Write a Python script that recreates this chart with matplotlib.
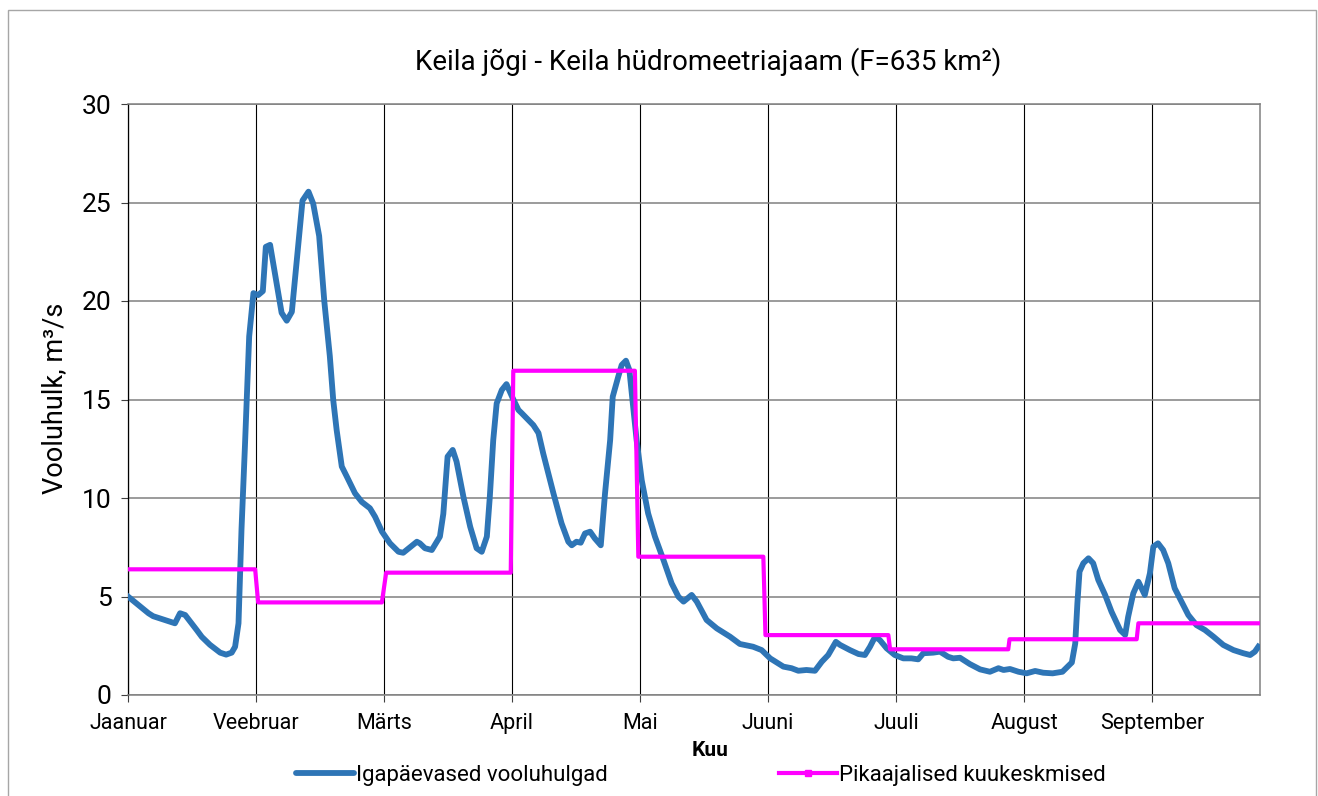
import matplotlib
matplotlib.use("Agg")
import matplotlib.pyplot as plt
from matplotlib.lines import Line2D
from matplotlib.patches import Rectangle
import numpy as np

plt.rcParams['font.family'] = ['Roboto', 'DejaVu Sans']

# paevad (0 = 1. jaanuar), kuu kohta 30 kategooriat
day_x = [0, 4.8, 5.9, 11, 12.2, 13.4, 16.1, 17.3, 19.2, 21.6, 23, 24.3, 25.1, 25.9,
         26.6, 27.4, 28.4, 29.4, 30.5, 31.6, 32.3, 33.3, 36, 37.2, 38.4, 40.9, 42.3,
         43.4, 44.8, 46, 47.3, 48.1, 48.9, 50.1, 51.3, 53.2, 54.8, 56.7, 57.9, 59.5,
         61.4, 63.4, 64.5, 66.1, 67.7, 68.4, 69.6, 71.2, 73.1, 73.9, 74.9, 76.1, 77,
         78.6, 80.2, 81.7, 82.9, 84.1, 84.8, 85.6, 86.4, 87.6, 88.7, 90.1, 91.5, 92.3,
         95, 96.2, 97.3, 99.7, 101.6, 103.2, 104, 105.1, 106.1, 107.1, 108.3, 109.4,
         110.8, 111.8, 113, 113.6, 114.9, 115.7, 116.7, 117.5, 118.4, 119.2, 120.4,
         121.9, 123.5, 125.5, 127.4, 129, 130.2, 132.1, 133.3, 135.6, 138, 141.1,
         143.4, 146.5, 148.5, 150.5, 153.6, 155.5, 157.1, 159, 161, 162.6, 164.1,
         165.9, 166.9, 169.2, 171.2, 172.7, 173.9, 175.1, 176.2, 177.8, 179.7, 181.7,
         183.6, 185.2, 186.4, 188.7, 190.3, 192.2, 193.4, 195, 197.3, 199.7, 202, 204,
         205.2, 206.7, 208.7, 210.6, 212.6, 214.5, 216.7, 219, 221.2, 222, 222.5, 223,
         223.9, 225.1, 226.2, 227.4, 229, 230.5, 232.5, 233.7, 234.4, 235.6, 236.8,
         238.3, 239.5, 240.3, 241.4, 242.6, 243.8, 245.3, 246.9, 248.5, 250.4, 252.4,
         254.4, 256.7, 259.1, 261.4, 263, 264.1, 264.9]
flow = [5.0, 4.15, 4.0, 3.64, 4.15, 4.06, 3.3, 2.95, 2.55, 2.15, 2.05, 2.15, 2.45, 3.64,
        8.4, 12.6, 18.2, 20.4, 20.3, 20.5, 22.75, 22.85, 19.4, 19.0, 19.45, 25.1, 25.55,
        24.95, 23.3, 20.0, 17.2, 14.97, 13.45, 11.6, 11.08, 10.24, 9.8, 9.48, 9.05, 8.3,
        7.7, 7.27, 7.22, 7.5, 7.78, 7.7, 7.45, 7.36, 8.04, 9.2, 12.1, 12.44, 11.85,
        10.07, 8.54, 7.45, 7.27, 8.04, 10.07, 12.94, 14.8, 15.48, 15.78, 15.1, 14.47, 14.3,
        13.7, 13.3, 12.27, 10.24, 8.72, 7.78, 7.6, 7.78, 7.73, 8.2, 8.29, 7.95,
        7.6, 10.24, 12.94, 15.14, 16.16, 16.75, 16.97, 16.5, 14.64, 12.94, 10.9,
        9.22, 8.04, 6.85, 5.67, 4.99, 4.74, 5.08, 4.74, 3.81, 3.38, 2.96,
        2.59, 2.45, 2.28, 1.86, 1.44, 1.36, 1.23, 1.27, 1.23, 1.69, 2.03,
        2.7, 2.54, 2.28, 2.08, 2.03, 2.45, 2.96, 2.79, 2.37, 2.03, 1.86,
        1.86, 1.81, 2.12, 2.15, 2.2, 1.94, 1.86, 1.89, 1.57, 1.3, 1.18, 1.36,
        1.27, 1.32, 1.18, 1.1, 1.22, 1.13, 1.1, 1.18, 1.65, 2.62, 4.65, 6.26,
        6.69, 6.94, 6.69, 5.84, 5.08, 4.23, 3.3, 3.05, 3.97, 5.16, 5.75,
        5.08, 6.18, 7.53, 7.7, 7.36, 6.69, 5.42, 4.74, 4.06, 3.55, 3.3,
        2.96, 2.54, 2.28, 2.12, 2.03, 2.2, 2.45]

# pikaajalised kuukeskmised
month_start = [0, 30.5, 60.5, 90.3, 119.6, 149.4, 178.6, 206.6, 236.8]
month_end = [29.8, 59.5, 89.7, 118.8, 148.9, 178.2, 206.3, 236.4, 265.3]
monthly_mean = [6.38, 4.7, 6.21, 16.46, 7.02, 3.04, 2.32, 2.83, 3.64]

month_ticks = [0, 30, 60, 90, 120, 150, 180, 210, 240]
month_labels = ['Jaanuar', 'Veebruar', 'Märts', 'April', 'Mai', 'Juuni',
                'Juuli', 'August', 'September']

step_x, step_y = [], []
for s, e, m in zip(month_start, month_end, monthly_mean):
    step_x += [s, e]
    step_y += [m, m]

blue = '#2E75B6'
pink = '#FF00FF'

fig = plt.figure(figsize=(13.18, 7.96), dpi=100)
ax = fig.add_axes([128/1318, 1-695/796, (1260-128)/1318, (695-104)/796])

ax.plot(day_x, flow, color=blue, lw=4.2, solid_joinstyle='round', zorder=3)
ax.plot(step_x, step_y, color=pink, lw=3.0, zorder=4)

ax.set_xlim(0, 265.3)
ax.set_ylim(0, 30)
ax.set_yticks(range(0, 31, 5))
ax.set_xticks(month_ticks)
ax.set_xticklabels(month_labels)
ax.tick_params(axis='both', direction='out', length=5, width=0.8, color='#404040')
ax.tick_params(axis='x', labelsize=15.5, pad=8)
ax.tick_params(axis='y', labelsize=19, pad=7)

ax.grid(axis='y', color='#808080', lw=1.1, zorder=1)
ax.grid(axis='x', color='black', lw=0.8, zorder=1)
for side in ['top', 'right', 'bottom']:
    ax.spines[side].set_color('#808080')
    ax.spines[side].set_linewidth(1.1)
ax.spines['left'].set_color('black')
ax.spines['left'].set_linewidth(0.9)

fig.text(708/1318, 1-62/796, 'Keila jõgi - Keila hüdromeetriajaam (F=635 km²)',
         ha='center', va='center', fontsize=20)
fig.text(55/1318, 1-398/796, 'Vooluhulk, m³/s', rotation=90,
         ha='center', va='center', fontsize=19.5)
fig.text(710/1318, 1-750/796, 'Kuu', ha='center', va='center',
         fontsize=15, fontweight='bold')

handles = [Line2D([], [], color=blue, lw=4.2, solid_capstyle='round'),
           Line2D([], [], color=pink, lw=3.0, marker='s', markersize=4)]
fig.legend(handles, ['Igapäevased vooluhulgad', 'Pikaajalised kuukeskmised'],
           loc='center', bbox_to_anchor=(701/1318, 1-775/796), ncol=2,
           frameon=False, fontsize=16, handlelength=2.6, handletextpad=0.1,
           columnspacing=7.7, numpoints=1)

fig.patches.append(Rectangle((8/1318, -0.01), (1316-8)/1318, 1-10/796+0.01,
                             transform=fig.transFigure, fill=False,
                             edgecolor='#a6a6a6', lw=1))

fig.savefig('out.png', dpi=100)
